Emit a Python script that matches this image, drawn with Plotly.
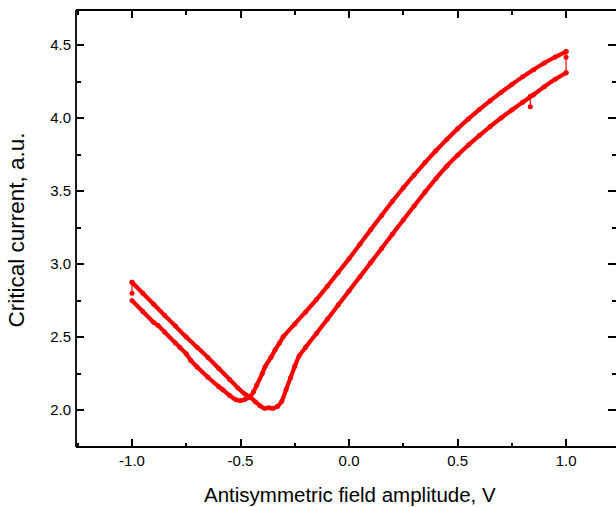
import plotly.graph_objects as go

# Forward sweep (-1 -> +1)
up_x = [-1.00, -0.95, -0.90, -0.88, -0.85, -0.80, -0.78, -0.75, -0.73, -0.70, -0.65, -0.60, -0.58,
        -0.55, -0.52, -0.50, -0.48, -0.456, -0.44, -0.425, -0.40, -0.387, -0.36, -0.341, -0.32,
        -0.303, -0.25, -0.20, -0.15, -0.10, -0.05, 0.00, 0.05, 0.10, 0.15, 0.20, 0.25, 0.30,
        0.35, 0.40, 0.45, 0.50, 0.55, 0.60, 0.65, 0.70, 0.75, 0.80, 0.85, 0.90, 0.95, 1.00]
up_y = [2.750, 2.675, 2.600, 2.580, 2.535, 2.460, 2.430, 2.385, 2.342, 2.295, 2.225, 2.160, 2.137,
        2.100, 2.070, 2.065, 2.073, 2.090, 2.125, 2.171, 2.250, 2.297, 2.360, 2.411, 2.460,
        2.502, 2.590, 2.672, 2.757, 2.848, 2.942, 3.036, 3.135, 3.235, 3.333, 3.430, 3.522, 3.610,
        3.695, 3.776, 3.853, 3.926, 3.994, 4.058, 4.118, 4.175, 4.230, 4.282, 4.331, 4.377, 4.418, 4.455]

# Backward sweep (+1 -> -1)
down_x = [1.00, 0.95, 0.90, 0.85, 0.80, 0.75, 0.70, 0.65, 0.60, 0.55, 0.50, 0.45, 0.40, 0.35,
          0.30, 0.25, 0.20, 0.15, 0.10, 0.05, 0.00, -0.05, -0.10, -0.15, -0.20, -0.23, -0.25,
          -0.27, -0.29, -0.31, -0.33, -0.35, -0.37, -0.39, -0.41, -0.43, -0.456, -0.48, -0.512,
          -0.55, -0.60, -0.65, -0.70, -0.75, -0.80, -0.85, -0.90, -0.95, -1.00]
down_y = [4.310, 4.265, 4.215, 4.160, 4.108, 4.055, 4.000, 3.942, 3.880, 3.815, 3.745, 3.670,
          3.585, 3.493, 3.398, 3.302, 3.205, 3.106, 3.010, 2.913, 2.816, 2.719, 2.622, 2.525,
          2.430, 2.370, 2.300, 2.220, 2.140, 2.060, 2.025, 2.012, 2.015, 2.012, 2.030, 2.055,
          2.090, 2.110, 2.151, 2.210, 2.285, 2.360, 2.430, 2.500, 2.575, 2.650, 2.725, 2.800, 2.875]

# Switching points at sweep ends and one outlier
right_x = [1.00, 1.00, 1.00]
right_y = [4.455, 4.417, 4.310]
left_x = [-1.00, -1.00]
left_y = [2.875, 2.800]
spike_x = [0.835, 0.835]
spike_y = [4.150, 4.077]

x_ticks = [-1.0, -0.5, 0.0, 0.5, 1.0]
y_ticks = [2.0, 2.5, 3.0, 3.5, 4.0, 4.5]
x_title = "Antisymmetric field amplitude, V"
y_title = "Critical current, a.u."

RED = "#FF0000"
FONT = "Liberation Sans, Arial, sans-serif"

fig = go.Figure()
for xs, ys in [(up_x, up_y), (down_x, down_y)]:
    fig.add_trace(go.Scatter(x=xs, y=ys, mode="lines+markers",
                             line=dict(color=RED, width=4.2, shape="spline", smoothing=0.4),
                             marker=dict(color=RED, size=5), showlegend=False))
for xs, ys in [(right_x, right_y), (left_x, left_y), (spike_x, spike_y)]:
    fig.add_trace(go.Scatter(x=xs, y=ys, mode="lines+markers",
                             line=dict(color=RED, width=1.2),
                             marker=dict(color=RED, size=5), showlegend=False))

axis_common = dict(
    showline=False, mirror="ticks", ticks="inside", ticklen=8, tickwidth=1.5,
    tickcolor="black", showgrid=False, zeroline=False,
    tickfont=dict(family=FONT, size=15, color="black"),
    minor=dict(ticks="inside", ticklen=4.5, tickwidth=1.5, tickcolor="black", showgrid=False),
)

fig.update_xaxes(range=[-1.258, 1.230], tickvals=x_ticks,
                 ticktext=[f"{v:.1f}" for v in x_ticks], ticklabelstandoff=3,
                 minor_dtick=0.25, minor_tick0=0, **axis_common)
fig.update_yaxes(range=[1.747, 4.74], tickvals=y_ticks,
                 ticktext=[f"{v:.1f}" for v in y_ticks], ticklabelstandoff=4,
                 minor_dtick=0.25, minor_tick0=0, **axis_common)

line = dict(color="black", width=1.8)
fig.add_shape(type="line", xref="paper", yref="paper", x0=0, x1=0, y0=0, y1=1, line=line)
fig.add_shape(type="line", xref="paper", yref="paper", x0=0, x1=1, y0=0, y1=0, line=line)
fig.add_shape(type="line", xref="paper", yref="paper", x0=0, x1=1, y0=1, y1=1, line=line)

fig.add_annotation(text=x_title, xref="paper", yref="paper", x=0.507, y=-0.1076,
                   xanchor="center", yanchor="middle", showarrow=False,
                   font=dict(family=FONT, size=20.5, color="black"))
fig.add_annotation(text=y_title, xref="paper", yref="paper", x=-0.11, y=0.4966,
                   xanchor="center", yanchor="middle", showarrow=False, textangle=-90,
                   font=dict(family=FONT, size=22.5, color="black"))

fig.update_layout(width=616, height=507, margin=dict(l=76, r=0, t=10, b=60),
                  plot_bgcolor="white", paper_bgcolor="white")

fig.write_html("out.html")
